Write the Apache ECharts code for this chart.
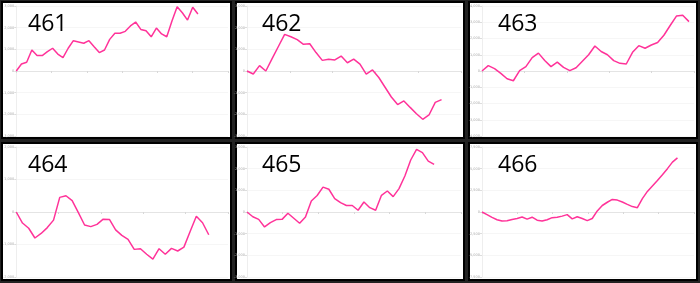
<!DOCTYPE html>
<html><head><meta charset="utf-8">
<script src="https://cdn.jsdelivr.net/npm/echarts@6/dist/echarts.min.js"></script>
<style>html,body{margin:0;padding:0;background:#222;}#c{width:700px;height:283px;}</style>
</head><body><div id="c"></div>
<script>
const panelNames = ['461','462','463','464','465','466'];
const s461 = [0,320,400,970,710,710,890,1050,780,620,1050,1400,1340,1280,1400,1120,850,970,1460,1740,1740,1830,2080,2260,1920,1860,1580,1980,1710,1580,2310,2970,2690,2350,2940,2630];
const s462 = [0,-140,250,0,570,1130,1690,1580,1450,1230,1260,850,490,540,510,690,380,550,320,-140,50,-300,-750,-1200,-1550,-1380,-1680,-1970,-2230,-2030,-1450,-1320];
const s463 = [0,330,150,-150,-480,-600,20,270,820,1100,650,270,550,220,20,200,600,1000,1540,1200,1000,640,470,430,1150,1560,1400,1600,1750,2200,2800,3380,3430,3040];
const s464 = [0,-340,-500,-800,-660,-480,-250,450,500,350,-20,-400,-450,-380,-220,-230,-550,-720,-840,-1150,-1130,-1300,-1450,-1130,-1300,-1120,-1200,-1080,-600,-130,-330,-700];
const s465 = [0,-220,-340,-690,-490,-350,-340,-60,-290,-520,-230,510,760,1150,1050,620,430,300,300,80,460,200,80,770,970,710,1080,1660,2400,2890,2740,2350,2200];
const s466 = [0,-300,-625,-900,-1050,-1000,-875,-750,-575,-825,-600,-950,-1050,-900,-650,-600,-475,-300,-800,-550,-750,-1000,-750,125,750,1125,1450,1375,1150,875,625,500,1550,2375,3000,3625,4300,5000,5750,6250];
const seriesList = [s461,s462,s463,s464,s465,s466];
const yMaxes = [3000,3000,4000,2000,3000,7500];
const yIntervals = [1000,1000,1000,1000,1000,2500];
const xMaxes = [40.8,34.1,33.8,34.1,36.6,42.3];
const xSplits = [6,5,5,5,6,6];

const panels = [
  {x:3,y:3,w:227,h:134, gl:14, gw:214, gt:6},
  {x:237,y:3,w:226,h:134, gl:247, gw:214, gt:6},
  {x:470,y:3,w:226,h:134, gl:482, gw:212, gt:6},
  {x:3,y:144,w:227,h:135, gl:14, gw:214, gt:147},
  {x:237,y:144,w:226,h:135, gl:247, gw:214, gt:147},
  {x:470,y:144,w:226,h:135, gl:482, gw:212, gt:147}
];
const titlePos = [[28,24],[262,24],[498,24],[28,165],[262,165],[498,165]];

const chart = echarts.init(document.getElementById('c'), null, {renderer:'canvas'});
const grid=[], xAxis=[], yAxis=[], series=[], graphic=[];
panels.forEach((p,i)=>{
  graphic.push({type:'rect', z:-10, shape:{x:p.x-2,y:p.y-2,width:p.w+4,height:p.h+4}, style:{fill:'#000'}});
  graphic.push({type:'rect', z:-5, shape:{x:p.x,y:p.y,width:p.w,height:p.h}, style:{fill:'#fff'}});
  graphic.push({type:'text', z:10, x:titlePos[i][0], y:titlePos[i][1],
    style:{text:panelNames[i], fontFamily:'Open Sans', fontSize:23, fill:'#000', verticalAlign:'middle', align:'left'}});
  grid.push({left:p.gl, top:p.gt, width:p.gw, height:130});
  xAxis.push({type:'value', gridIndex:i, min:0, max:xMaxes[i], interval:xMaxes[i]/xSplits[i],
    axisLine:{onZero:true, lineStyle:{color:'#e4e4e4', width:1}},
    axisTick:{show:true, length:2, inside:false, lineStyle:{color:'#d8d8d8'}},
    axisLabel:{show:false}, splitLine:{show:false}});
  yAxis.push({type:'value', gridIndex:i, min:-yMaxes[i], max:yMaxes[i], interval:yIntervals[i],
    axisLine:{show:true, lineStyle:{color:'#eeeeee'}},
    axisTick:{show:true, length:2, lineStyle:{color:'#dddddd'}},
    axisLabel:{fontSize:3.5, color:'#aaaaaa', margin:2, fontFamily:'DejaVu Sans'},
    splitLine:{show:true, lineStyle:{color:'#f6f6f6', width:1}}});
  series.push({type:'line', xAxisIndex:i, yAxisIndex:i, data:seriesList[i].map((v,k)=>[k,v]),
    showSymbol:false, symbol:'none', lineStyle:{color:'#ff3399', width:1.5}, animation:false});
});
chart.setOption({backgroundColor:'#222', animation:false, grid, xAxis, yAxis, series, graphic});
</script></body></html>
